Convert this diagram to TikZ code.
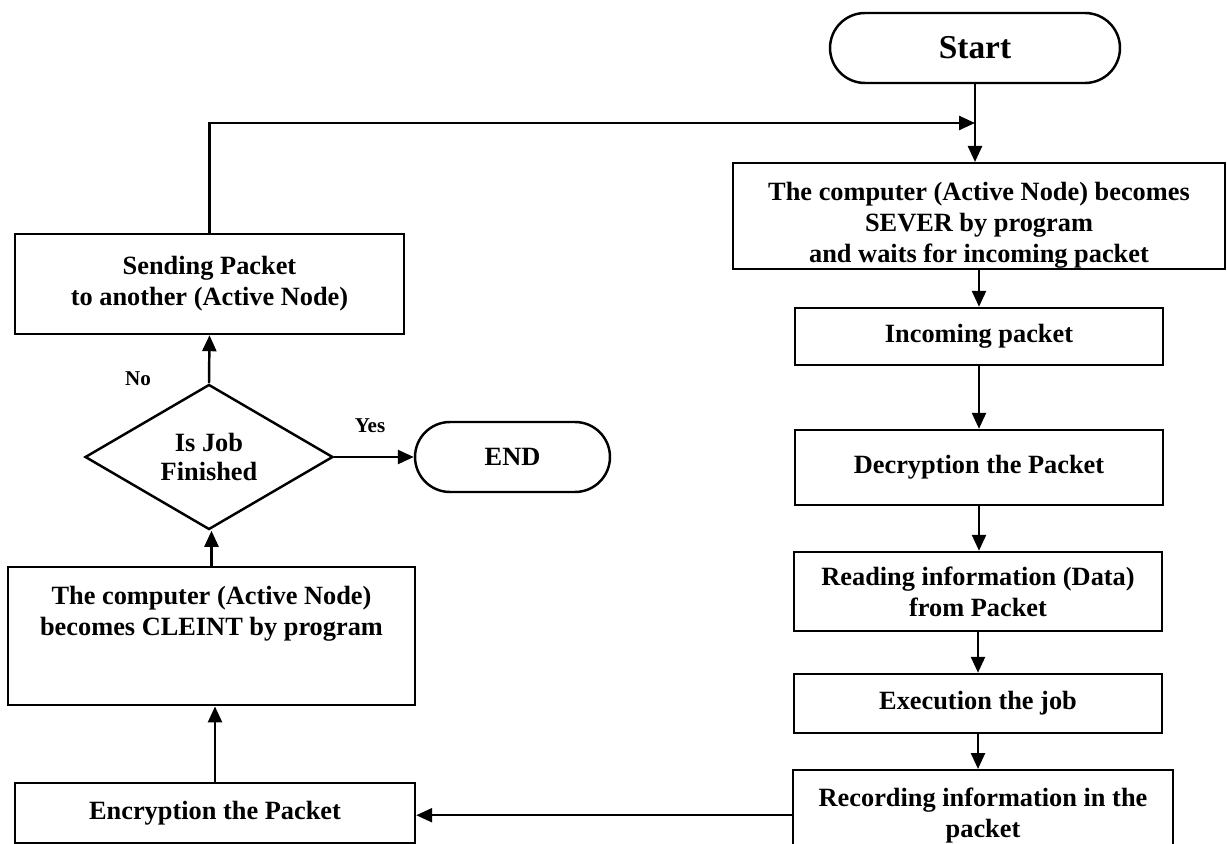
\documentclass[tikz,border=0pt]{standalone}
\usepackage{fontspec}
\setmainfont{Liberation Serif}
\usepackage{tikz}
\usetikzlibrary{positioning, arrows.meta, shapes.geometric}

\tikzset{
  process/.style={draw, line width=1.4pt, align=center, inner sep=0pt,
        font=\fontsize{15}{17.5}\selectfont\bfseries},
  terminal/.style={draw, line width=1.4pt, rounded corners=0.7cm,
        minimum height=1.4cm, font=\fontsize{15}{17.5}\selectfont\bfseries},
  decision/.style={draw, diamond, line width=1.4pt, align=center, inner sep=0pt,
        minimum width=4.96cm, minimum height=2.68cm,
        font=\fontsize{15}{17}\selectfont\bfseries},
  flow/.style={line width=1.4pt, -{Triangle[length=0.32cm, width=0.28cm]}},
  answer/.style={font=\fontsize{12}{14}\selectfont\bfseries}
}

\begin{document}
\begin{tikzpicture}[x=0.02cm, y=-0.02cm]
  \useasboundingbox (0,0) rectangle (1227,844);

  % right column: server side
  \node[terminal, minimum width=5.8cm, font=\fontsize{19}{22}\selectfont\bfseries]
        (start) at (975,48) {Start};
  \node[process, anchor=north, minimum width=9.84cm, text height=1.88cm,
        text depth=0.04cm, inner ysep=0.1cm] (server) at (979,162)
        {The computer (Active Node) becomes\\SEVER by program\\and waits for incoming packet};
  \node[process, minimum width=7.36cm, minimum height=1.14cm] (incoming) at (979,336.5)
        {Incoming packet};
  \node[process, minimum width=7.36cm, minimum height=1.5cm] (decrypt) at (979,467.5)
        {Decryption the Packet};
  \node[process, minimum width=7.36cm, minimum height=1.58cm] (reading) at (978,591.5)
        {Reading information (Data)\\from Packet};
  \node[process, minimum width=7.36cm, minimum height=1.18cm] (execute) at (978,703.5)
        {Execution the job};
  \node[process, anchor=north, minimum width=7.6cm, minimum height=1.8cm] (record) at (983,769)
        {Recording information in the\\packet};

  % left column: client side
  \node[process, minimum width=8cm, minimum height=1.2cm] (encrypt) at (215,813)
        {Encryption the Packet};
  \node[process, anchor=north, minimum width=8.14cm, text height=1.16cm,
        text depth=1.2cm, inner ysep=0.2cm] (client) at (211.5,566)
        {The computer (Active Node)\\becomes CLEINT by program};
  \node[decision] (finished) at (209,457) {Is Job\\Finished};
  \node[terminal, minimum width=3.9cm] (end) at (512.5,457) {END};
  \node[process, minimum width=7.78cm, minimum height=2cm] (sending) at (209.5,284)
        {Sending Packet\\to another (Active Node)};

  \node[answer] (no) at (138,379) {No};
  \node[answer] (yes) at (370,426) {Yes};

  \coordinate (merge) at (975,123);

  % connectors
  \draw[flow] (start.south) -- (start.south |- server.north);
  \draw[flow] (sending.north) |- (merge);
  \draw[flow] (incoming.north |- server.south) -- (incoming.north);
  \draw[flow] (incoming.south) -- (decrypt.north);
  \draw[flow] (decrypt.south) -- (decrypt.south |- reading.north);
  \draw[flow] (reading.south) -- (execute.north);
  \draw[flow] (execute.south) -- (execute.south |- record.north);
  \draw[flow] (record.west) -- (record.west -| encrypt.east);
  \draw[flow] (encrypt.north) -- (encrypt.north |- client.south);
  \draw[flow] (client.north) -- (client.north |- finished.south);
  \draw[flow] (finished.north) -- (sending.south);
  \draw[flow] (finished.east) -- (end.west);
\end{tikzpicture}
\end{document}
